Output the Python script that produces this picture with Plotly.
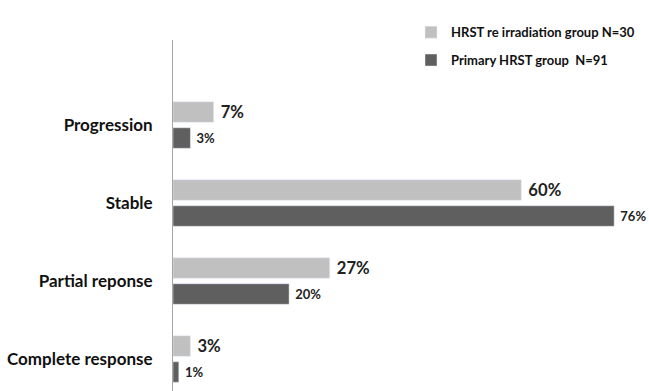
import plotly.graph_objects as go

categories = ["Complete response", "Partial reponse", "Stable", "Progression"]
reirr_vals = [3, 27, 60, 7]
primary_vals = [1, 20, 76, 3]
reirr_name = "HRST re irradiation group N=30"
primary_name = "Primary HRST group  N=91"

FONT = "Lato, 'Open Sans', sans-serif"

fig = go.Figure()
fig.add_trace(go.Bar(
    y=categories, x=primary_vals, orientation="h", name=primary_name,
    marker=dict(color="#5f5f5f"), legendgroup="b", legendrank=2,
    text=[f"{v}%" for v in primary_vals], texttemplate=" %{text}",
    textposition="outside", cliponaxis=False,
    textfont=dict(family=FONT, size=13, color="#222222", weight="bold"),
))
fig.add_trace(go.Bar(
    y=categories, x=reirr_vals, orientation="h", name=reirr_name,
    marker=dict(color="#c0c0c0"), legendgroup="a", legendrank=1,
    text=[f"{v}%" for v in reirr_vals], texttemplate=" %{text}",
    textposition="outside", cliponaxis=False,
    textfont=dict(family=FONT, size=17, color="#222222", weight="bold"),
))

fig.update_layout(
    width=649, height=391,
    margin=dict(l=173, r=0, t=40, b=0),
    plot_bgcolor="white", paper_bgcolor="white",
    barmode="group", bargap=0.333, bargroupgap=0.21,
    font=dict(family=FONT, color="#111111"),
    xaxis=dict(range=[0, 82.0], visible=False, showgrid=False),
    yaxis=dict(
        type="category", categoryorder="array", categoryarray=categories,
        range=[-0.41, 4.09], showline=True, linecolor="#a6a6a6", linewidth=1,
        ticks="", showgrid=False, ticklabelstandoff=16,
        tickfont=dict(family=FONT, size=17, color="#111111", weight="bold"),
    ),
    legend=dict(
        x=0.5, y=1.065, xanchor="left", yanchor="top",
        font=dict(family=FONT, size=13, color="#111111", weight="bold"),
        tracegroupgap=8, bgcolor="rgba(0,0,0,0)",
    ),
    showlegend=True,
)

fig.write_html("out.html")
